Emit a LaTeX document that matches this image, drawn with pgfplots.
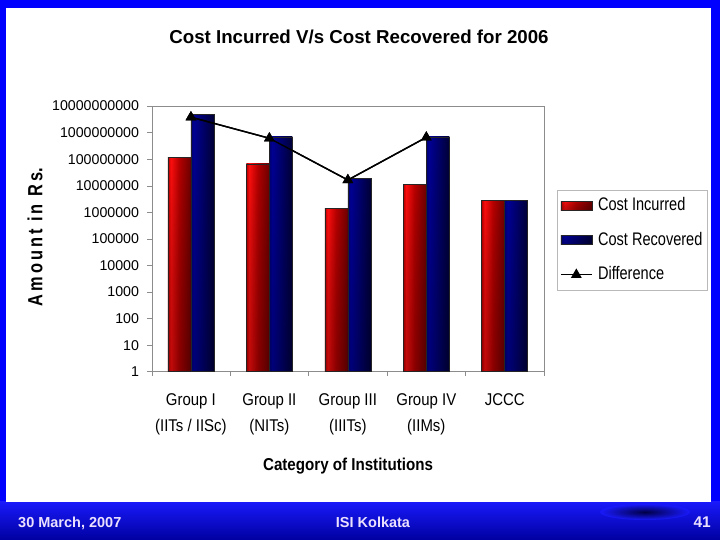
\documentclass[border=0pt]{standalone}
\usepackage{pgfplots}
\pgfplotsset{compat=1.18}
\usetikzlibrary{fadings}
\usepackage{fontspec}
\setmainfont{Liberation Sans}
\newfontfamily\nA[FakeStretch=0.88]{Liberation Sans}
\newfontfamily\nB[FakeStretch=0.8]{Liberation Sans}
\newfontfamily\nX[FakeStretch=0.88]{Liberation Sans}

\definecolor{rLeft}{RGB}{190,0,0}
\definecolor{rBright}{RGB}{255,15,15}
\definecolor{rMid}{RGB}{180,0,0}
\definecolor{rDark}{RGB}{110,0,0}
\definecolor{bLeft}{RGB}{0,0,115}
\definecolor{bBright}{RGB}{0,0,150}
\definecolor{bMid}{RGB}{0,0,110}
\definecolor{bDark}{RGB}{0,0,55}
\definecolor{footertext}{RGB}{235,225,255}
\definecolor{bandtop}{RGB}{25,25,250}
\definecolor{bandbot}{RGB}{0,0,160}
\definecolor{swoosh}{RGB}{0,0,70}
\definecolor{framegray}{RGB}{140,140,140}
\definecolor{leggray}{RGB}{185,185,185}

\pgfdeclarehorizontalshading{redbar}{100bp}{color(0bp)=(rLeft); color(25bp)=(rLeft); color(31bp)=(rBright); color(50bp)=(rMid); color(75bp)=(rDark); color(100bp)=(rDark)}
\pgfdeclarehorizontalshading{bluebar}{100bp}{color(0bp)=(bLeft); color(25bp)=(bLeft); color(31bp)=(bBright); color(50bp)=(bMid); color(75bp)=(bDark); color(100bp)=(bDark)}

\pgfplotsset{
  redlegend/.style={legend image code/.code={\shade[shading=redbar, draw=black!85, line width=0.6bp] (0bp,-4.5bp) rectangle (31bp,4.5bp);}},
  bluelegend/.style={legend image code/.code={\shade[shading=bluebar, draw=black!85, line width=0.6bp] (0bp,-4.5bp) rectangle (31bp,4.5bp);}},
  difflegend/.style={legend image code/.code={\draw[mark repeat=2, mark phase=2, ##1] plot coordinates {(0bp,0bp) (15.5bp,0bp) (31bp,0bp)};}},
  redbarstyle/.style={ybar, bar width=23bp, bar shift=-11.5bp, draw=black!85, line width=0.6bp, shading=redbar, shade,
    postaction={fill=black, fill opacity=0.4, path fading=north}},
  bluebarstyle/.style={ybar, bar width=23bp, bar shift=11.5bp, draw=black!85, line width=0.6bp, shading=bluebar, shade,
    postaction={fill=black, fill opacity=0.25, path fading=north}},
}

\begin{document}
\begin{tikzpicture}
% slide background
\fill[blue] (0bp,0bp) rectangle (720bp,540bp);
\shade[top color=bandtop, bottom color=bandbot] (0bp,0bp) rectangle (720bp,38bp);
\shade[inner color=swoosh, outer color=bandtop] (645bp,28bp) ellipse [x radius=45bp, y radius=8bp];
\fill[white] (6bp,38bp) rectangle (711bp,532bp);
\node[anchor=base west, text=footertext, font=\bfseries\fontsize{14.5bp}{16bp}\selectfont, inner sep=0pt] at (18bp,13bp) {30 March, 2007};
\node[anchor=base, text=footertext, font=\bfseries\fontsize{14.5bp}{16bp}\selectfont, inner sep=0pt] at (373bp,13bp) {ISI Kolkata};
\node[anchor=base east, text=footertext, font=\bfseries\fontsize{15.5bp}{16bp}\selectfont, inner sep=0pt] at (711bp,13bp) {41};

% title and labels
\node[anchor=base, inner sep=0pt, font=\bfseries\fontsize{18.7bp}{22bp}\selectfont] at (359bp,496bp) {Cost Incurred V/s Cost Recovered for 2006};
\node[anchor=base, inner sep=0pt, font=\nX\bfseries\fontsize{17.2bp}{20bp}\selectfont] at (348bp,69.3bp) {Category of Institutions};
\node[rotate=90, inner sep=0pt, font=\nB\bfseries\fontsize{20.5bp}{22bp}\selectfont] at (35bp,303bp)
  {A\hspace{3bp}m\hspace{3bp}o\hspace{3bp}u\hspace{3bp}n\hspace{3bp}t\hspace{7.5bp}i\hspace{3bp}n\hspace{7.5bp}R\hspace{3bp}s.};

\begin{axis}[
  at={(151.7bp,168.3bp)}, anchor=south west,
  scale only axis, width=392.3bp, height=265.7bp,
  xmin=-0.5, xmax=4.5,
  ymode=log, ymin=1, ymax=1e10,
  axis line style={framegray},
  tick pos=left,
  tick align=outside,
  major tick length=4.5bp,
  every tick/.style={framegray},
  xtick={-0.5,0.5,1.5,2.5,3.5,4.5},
  xticklabels={},
  extra x ticks={0,1,2,3,4},
  extra x tick labels={{Group I\\[3.5bp](IITs / IISc)},{Group II\\[3.5bp](NITs)},{Group III\\[3.5bp](IIITs)},{Group IV\\[3.5bp](IIMs)},{JCCC}},
  extra x tick style={major tick length=0pt,
    xticklabel style={align=center, font=\nA\fontsize{17bp}{23bp}\selectfont, inner sep=0pt, yshift=-21.5bp}},
  yminorticks=false,
  ytick={1,10,100,1e3,1e4,1e5,1e6,1e7,1e8,1e9,1e10},
  yticklabels={1,10,100,1000,10000,100000,1000000,10000000,100000000,1000000000,10000000000},
  yticklabel style={font=\fontsize{14.2bp}{16bp}\selectfont, inner sep=0pt, xshift=-8bp},
  legend style={at={(1.033,0.684)}, anchor=north west, draw=leggray, fill=white,
    font=\nB\fontsize{18.2bp}{20bp}\selectfont, inner xsep=3bp, inner ysep=5bp,
    row sep=13.5bp, nodes={inner sep=2bp, text height=13.5bp, text depth=3.5bp},
    /tikz/every odd column/.append style={column sep=3.5bp}},
  legend cell align=left,
]
% Cost Incurred (one bar per category)
\addplot[redbarstyle, redlegend] coordinates {(0,1.15e8)};
\addlegendentry{Cost Incurred}
% Cost Recovered
\addplot[bluebarstyle, bluelegend] coordinates {(0,4.9e9)};
\addlegendentry{Cost Recovered}
% Difference
\addplot[black, line width=1.4bp, mark=triangle*, mark size=4.8bp, mark options={fill=black}, difflegend]
  coordinates {(0,3.8e9) (1,6.1e8) (2,1.64e7) (3,6.6e8)};
\addlegendentry{Difference}
\addplot[redbarstyle, forget plot] coordinates {(1,6.6e7)};
\addplot[redbarstyle, forget plot] coordinates {(2,1.43e6)};
\addplot[redbarstyle, forget plot] coordinates {(3,1.11e7)};
\addplot[redbarstyle, forget plot] coordinates {(4,2.85e6)};
\addplot[bluebarstyle, forget plot] coordinates {(1,6.85e8)};
\addplot[bluebarstyle, forget plot] coordinates {(2,1.91e7)};
\addplot[bluebarstyle, forget plot] coordinates {(3,6.85e8)};
\addplot[bluebarstyle, forget plot] coordinates {(4,2.85e6)};
% redraw difference line on top of bars
\addplot[black, line width=1.4bp, mark=triangle*, mark size=4.8bp, mark options={fill=black}, forget plot]
  coordinates {(0,3.8e9) (1,6.1e8) (2,1.64e7) (3,6.6e8)};
\end{axis}
\end{tikzpicture}
\end{document}
